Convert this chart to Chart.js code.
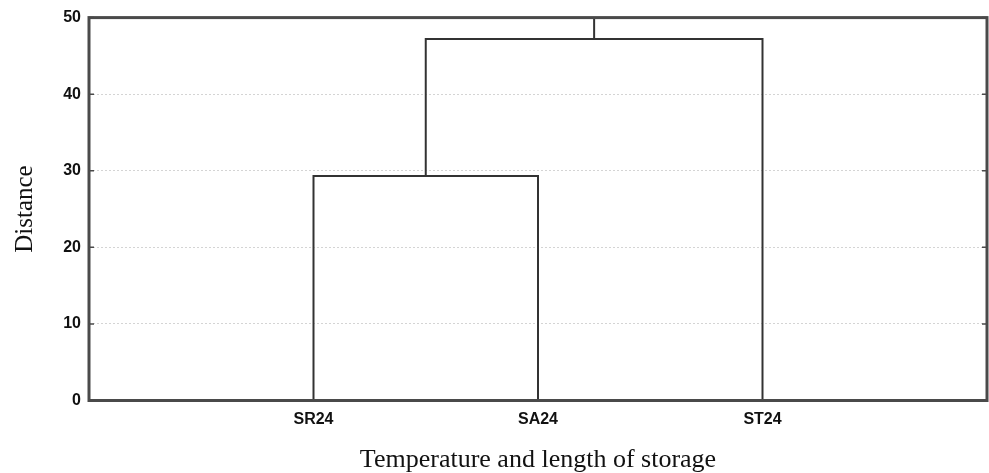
<!DOCTYPE html>
<html>
<head>
<meta charset="utf-8">
<script src="https://cdn.jsdelivr.net/npm/chart.js@4"></script>
<style>
  html, body { margin: 0; padding: 0; background: #fff; }
  #wrap { width: 989px; height: 473px; }
</style>
</head>
<body>
<div id="wrap"><canvas id="c"></canvas></div>
<script>
// dendrogram: leaves, then merges (child indices, leaves first then merged clusters)
const categories = ['SR24', 'SA24', 'ST24'];
const linkPairs = [[0, 1], [3, 2]];
const linkHeights = [29.3, 47.2];
const rootTop = 50;
const yTicks = [0, 10, 20, 30, 40, 50];

const LINE = '#333';

// node positions: leaves sit at 1..n on the x scale, merges at their children's mean
const nodes = categories.map((c, i) => ({ x: i + 1, y: 0 }));
const datasets = linkPairs.map(([a, b], k) => {
  const l = nodes[a], r = nodes[b], h = linkHeights[k];
  nodes.push({ x: (l.x + r.x) / 2, y: h });
  return {
    data: [{ x: l.x, y: l.y }, { x: l.x, y: h }, { x: r.x, y: h }, { x: r.x, y: r.y }],
  };
});
const root = nodes[nodes.length - 1];
datasets.push({ data: [{ x: root.x, y: root.y }, { x: root.x, y: rootTop }] });
datasets.forEach(d => Object.assign(d, {
  showLine: true, borderColor: LINE, borderWidth: 2, pointRadius: 0, fill: false,
}));

// frame + inner tick marks on both sides
const framePlugin = {
  id: 'frame',
  afterDatasetsDraw(chart) {
    const { ctx, chartArea: a, scales: { y } } = chart;
    ctx.save();
    ctx.strokeStyle = '#4a4a4a';
    ctx.lineWidth = 1.5;
    yTicks.forEach(v => {
      const py = y.getPixelForValue(v);
      ctx.beginPath();
      ctx.moveTo(a.left, py); ctx.lineTo(a.left + 5, py);
      ctx.moveTo(a.right, py); ctx.lineTo(a.right - 5, py);
      ctx.stroke();
    });
    ctx.lineWidth = 3;
    ctx.strokeRect(a.left, a.top, a.right - a.left, a.bottom - a.top);
    ctx.restore();
  }
};

new Chart(document.getElementById('c'), {
  type: 'scatter',
  data: { datasets },
  plugins: [framePlugin],
  options: {
    responsive: true, maintainAspectRatio: false, animation: false,
    layout: { padding: { left: 0, right: 2, top: 17, bottom: 0 } },
    plugins: { legend: { display: false }, tooltip: { enabled: false } },
    scales: {
      x: {
        type: 'linear', min: 0, max: 4,
        afterBuildTicks: s => { s.ticks = categories.map((c, i) => ({ value: i + 1 })); },
        afterFit: s => { s.height = 72.5; },
        grid: { display: false, drawTicks: false },
        border: { display: false },
        ticks: {
          padding: 9, color: '#111', maxRotation: 0,
          font: { family: 'Liberation Sans, Arial', size: 16, weight: 'bold' },
          callback: v => categories[v - 1],
        },
        title: {
          display: true, text: 'Temperature and length of storage', color: '#111',
          padding: { top: 0, bottom: 0 },
          font: { family: 'Liberation Serif, Times New Roman', size: 26, lineHeight: 1 },
        },
      },
      y: {
        min: 0, max: 50,
        afterBuildTicks: s => { s.ticks = yTicks.map(v => ({ value: v })); },
        afterFit: s => { s.width = 89; },
        grid: { color: '#d4d4d4', lineWidth: 1, drawTicks: false },
        border: { display: false, dash: [2, 2] },
        ticks: {
          padding: 8, color: '#111',
          font: { family: 'Liberation Sans, Arial', size: 16, weight: 'bold' },
        },
        title: {
          display: true, text: 'Distance', color: '#111',
          padding: { top: 10, bottom: 0 },
          font: { family: 'Liberation Serif, Times New Roman', size: 25 },
        },
      },
    },
  },
});
</script>
</body>
</html>
